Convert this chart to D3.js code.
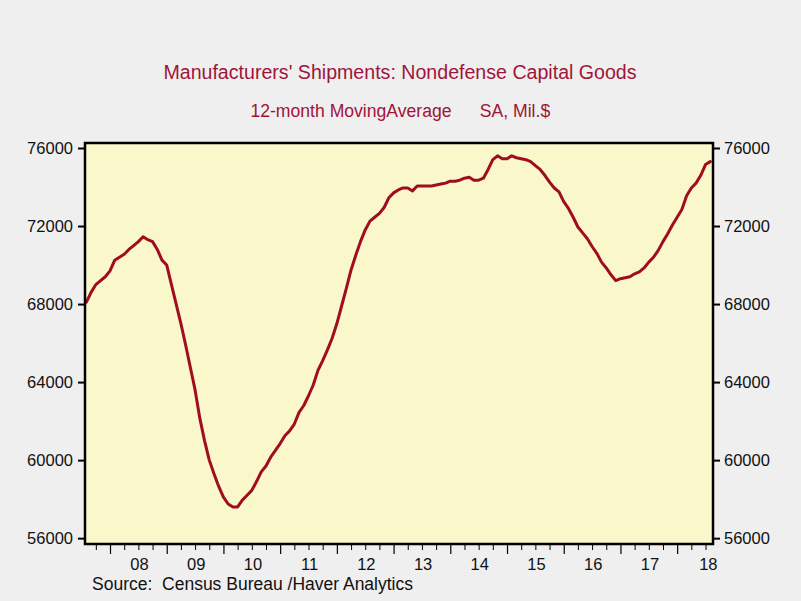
<!DOCTYPE html>
<html>
<head>
<meta charset="utf-8">
<script src="https://cdn.jsdelivr.net/npm/d3@7"></script>
<style>
  html, body { margin: 0; padding: 0; background: #efefef; }
  svg { display: block; }
  text { font-family: "Liberation Sans", Arial, sans-serif; }
</style>
</head>
<body>
<svg id="chart" width="801" height="601"></svg>
<script>
// Monthly 12-month moving average, Aug 2007 .. Aug 2018 (Mil. $)
const startYear = 2007;
const startMonth = 7; // August (0-based)
const values = [
  // 2007 Aug-Dec
  68100, 68600, 69000, 69200, 69400,
  // 2008
  69700, 70250, 70400, 70550, 70800, 71000, 71200, 71450, 71300, 71200, 70800, 70250,
  // 2009
  70000, 69000, 68000, 67000, 65900, 64750, 63600, 62150, 61000, 60000, 59300, 58650,
  // 2010
  58100, 57750, 57600, 57600, 57950, 58200, 58450, 58900, 59400, 59700, 60150, 60500,
  // 2011
  60850, 61250, 61500, 61850, 62450, 62800, 63300, 63850, 64600, 65100, 65650, 66250,
  // 2012
  67000, 67900, 68800, 69750, 70500, 71200, 71800, 72250, 72450, 72650, 72950, 73450,
  // 2013
  73700, 73850, 73950, 73950, 73800, 74050, 74050, 74050, 74050, 74100, 74150, 74200,
  // 2014
  74300, 74300, 74350, 74450, 74500, 74350, 74350, 74450, 74900, 75400, 75600, 75450,
  // 2015
  75450, 75600, 75500, 75450, 75400, 75300, 75100, 74900, 74600, 74250, 73950, 73750,
  // 2016
  73250, 72900, 72450, 71950, 71650, 71350, 70950, 70600, 70150, 69850, 69500, 69200,
  // 2017
  69300, 69350, 69400, 69550, 69650, 69850, 70150, 70400, 70750, 71200, 71600, 72050,
  // 2018
  72450, 72850, 73550, 73950, 74200, 74600, 75150, 75300
];
const yTicks = [56000, 60000, 64000, 68000, 72000, 76000];
const yearLabels = ["08", "09", "10", "11", "12", "13", "14", "15", "16", "17", "18"];
const yearStarts = [2008, 2009, 2010, 2011, 2012, 2013, 2014, 2015, 2016, 2017, 2018];
const title = "Manufacturers' Shipments: Nondefense Capital Goods";
const subtitleLeft = "12-month MovingAverage";
const subtitleRight = "SA, Mil.$";
const source = "Source:  Census Bureau /Haver Analytics";

const data = values.map((v, i) => ({ t: startYear + (startMonth + i) / 12, v }));

const svg = d3.select("#chart");
const L = 85, R = 713, T = 143, B = 544;
const titleColor = "#a0143a";
const lineColor = "#a00d1e";

const x = d3.scaleLinear().domain([2007.559, 2018.632]).range([L, R]);
const y = d3.scaleLinear().domain([55700, 76256]).range([B, T]);

svg.append("rect").attr("width", 801).attr("height", 601).attr("fill", "#efefef");

// Plot background
svg.append("rect").attr("x", L).attr("y", T).attr("width", R - L).attr("height", B - T)
  .attr("fill", "#faf8cb");

// Titles
svg.append("text").attr("x", 400).attr("y", 79).attr("text-anchor", "middle")
  .attr("font-size", 19.6).attr("fill", titleColor).text(title);
svg.append("text").attr("x", 351).attr("y", 117).attr("text-anchor", "middle")
  .attr("font-size", 17.6).attr("fill", titleColor).text(subtitleLeft);
svg.append("text").attr("x", 515).attr("y", 117).attr("text-anchor", "middle")
  .attr("font-size", 17.6).attr("fill", titleColor).text(subtitleRight);

// Line
const line = d3.line().x(d => x(d.t)).y(d => y(d.v));
svg.append("path").datum(data).attr("d", line)
  .attr("fill", "none").attr("stroke", lineColor).attr("stroke-width", 3)
  .attr("stroke-linejoin", "round").attr("stroke-linecap", "round");

// Y axes
const leftAxis = d3.axisLeft(y).tickValues(yTicks).tickSize(7).tickPadding(5).tickFormat(d3.format("d"));
const rightAxis = d3.axisRight(y).tickValues(yTicks).tickSize(7).tickPadding(4).tickFormat(d3.format("d"));
const gl = svg.append("g").attr("transform", `translate(${L},0)`).call(leftAxis);
const gr = svg.append("g").attr("transform", `translate(${R},0)`).call(rightAxis);
[gl, gr].forEach(g => {
  g.select(".domain").remove();
  g.selectAll(".tick line").attr("stroke", "#000").attr("stroke-width", 2);
  g.selectAll(".tick text").attr("font-size", 16.5).attr("fill", "#111")
    .attr("font-family", "Liberation Sans, Arial, sans-serif");
});

// X axis: quarterly minor ticks, yearly major ticks
const minorTicks = [];
for (let yr = 2007; yr <= 2018; yr++) {
  [0.25, 0.5, 0.75].forEach(q => {
    const t = yr + q;
    if (x(t) > L + 2 && x(t) < R - 2) minorTicks.push(t);
  });
}
const gxMinor = svg.append("g").attr("transform", `translate(0,${B})`)
  .call(d3.axisBottom(x).tickValues(minorTicks).tickSize(6).tickFormat(""));
gxMinor.select(".domain").remove();
gxMinor.selectAll(".tick line").attr("stroke", "#000").attr("stroke-width", 1);

const gxMajor = svg.append("g").attr("transform", `translate(0,${B})`)
  .call(d3.axisBottom(x).tickValues(yearStarts).tickSize(10).tickFormat(""));
gxMajor.select(".domain").remove();
gxMajor.selectAll(".tick line").attr("stroke", "#000").attr("stroke-width", 1.2);

// Year labels at mid-year
svg.append("g").selectAll("text").data(yearStarts).join("text")
  .attr("x", (d, i) => i === yearStarts.length - 1 ? x(d + 0.55) : x(d + 0.52))
  .attr("y", 570).attr("text-anchor", "middle")
  .attr("font-size", 16.5).attr("fill", "#111")
  .text((d, i) => yearLabels[i]);

// Frame
svg.append("rect").attr("x", L).attr("y", T).attr("width", R - L).attr("height", B - T)
  .attr("fill", "none").attr("stroke", "#000").attr("stroke-width", 2.5);

// Source
svg.append("text").attr("x", 92).attr("y", 590).attr("font-size", 17.5).attr("fill", "#111")
  .attr("xml:space", "preserve").style("white-space", "pre").text(source);
</script>
</body>
</html>
